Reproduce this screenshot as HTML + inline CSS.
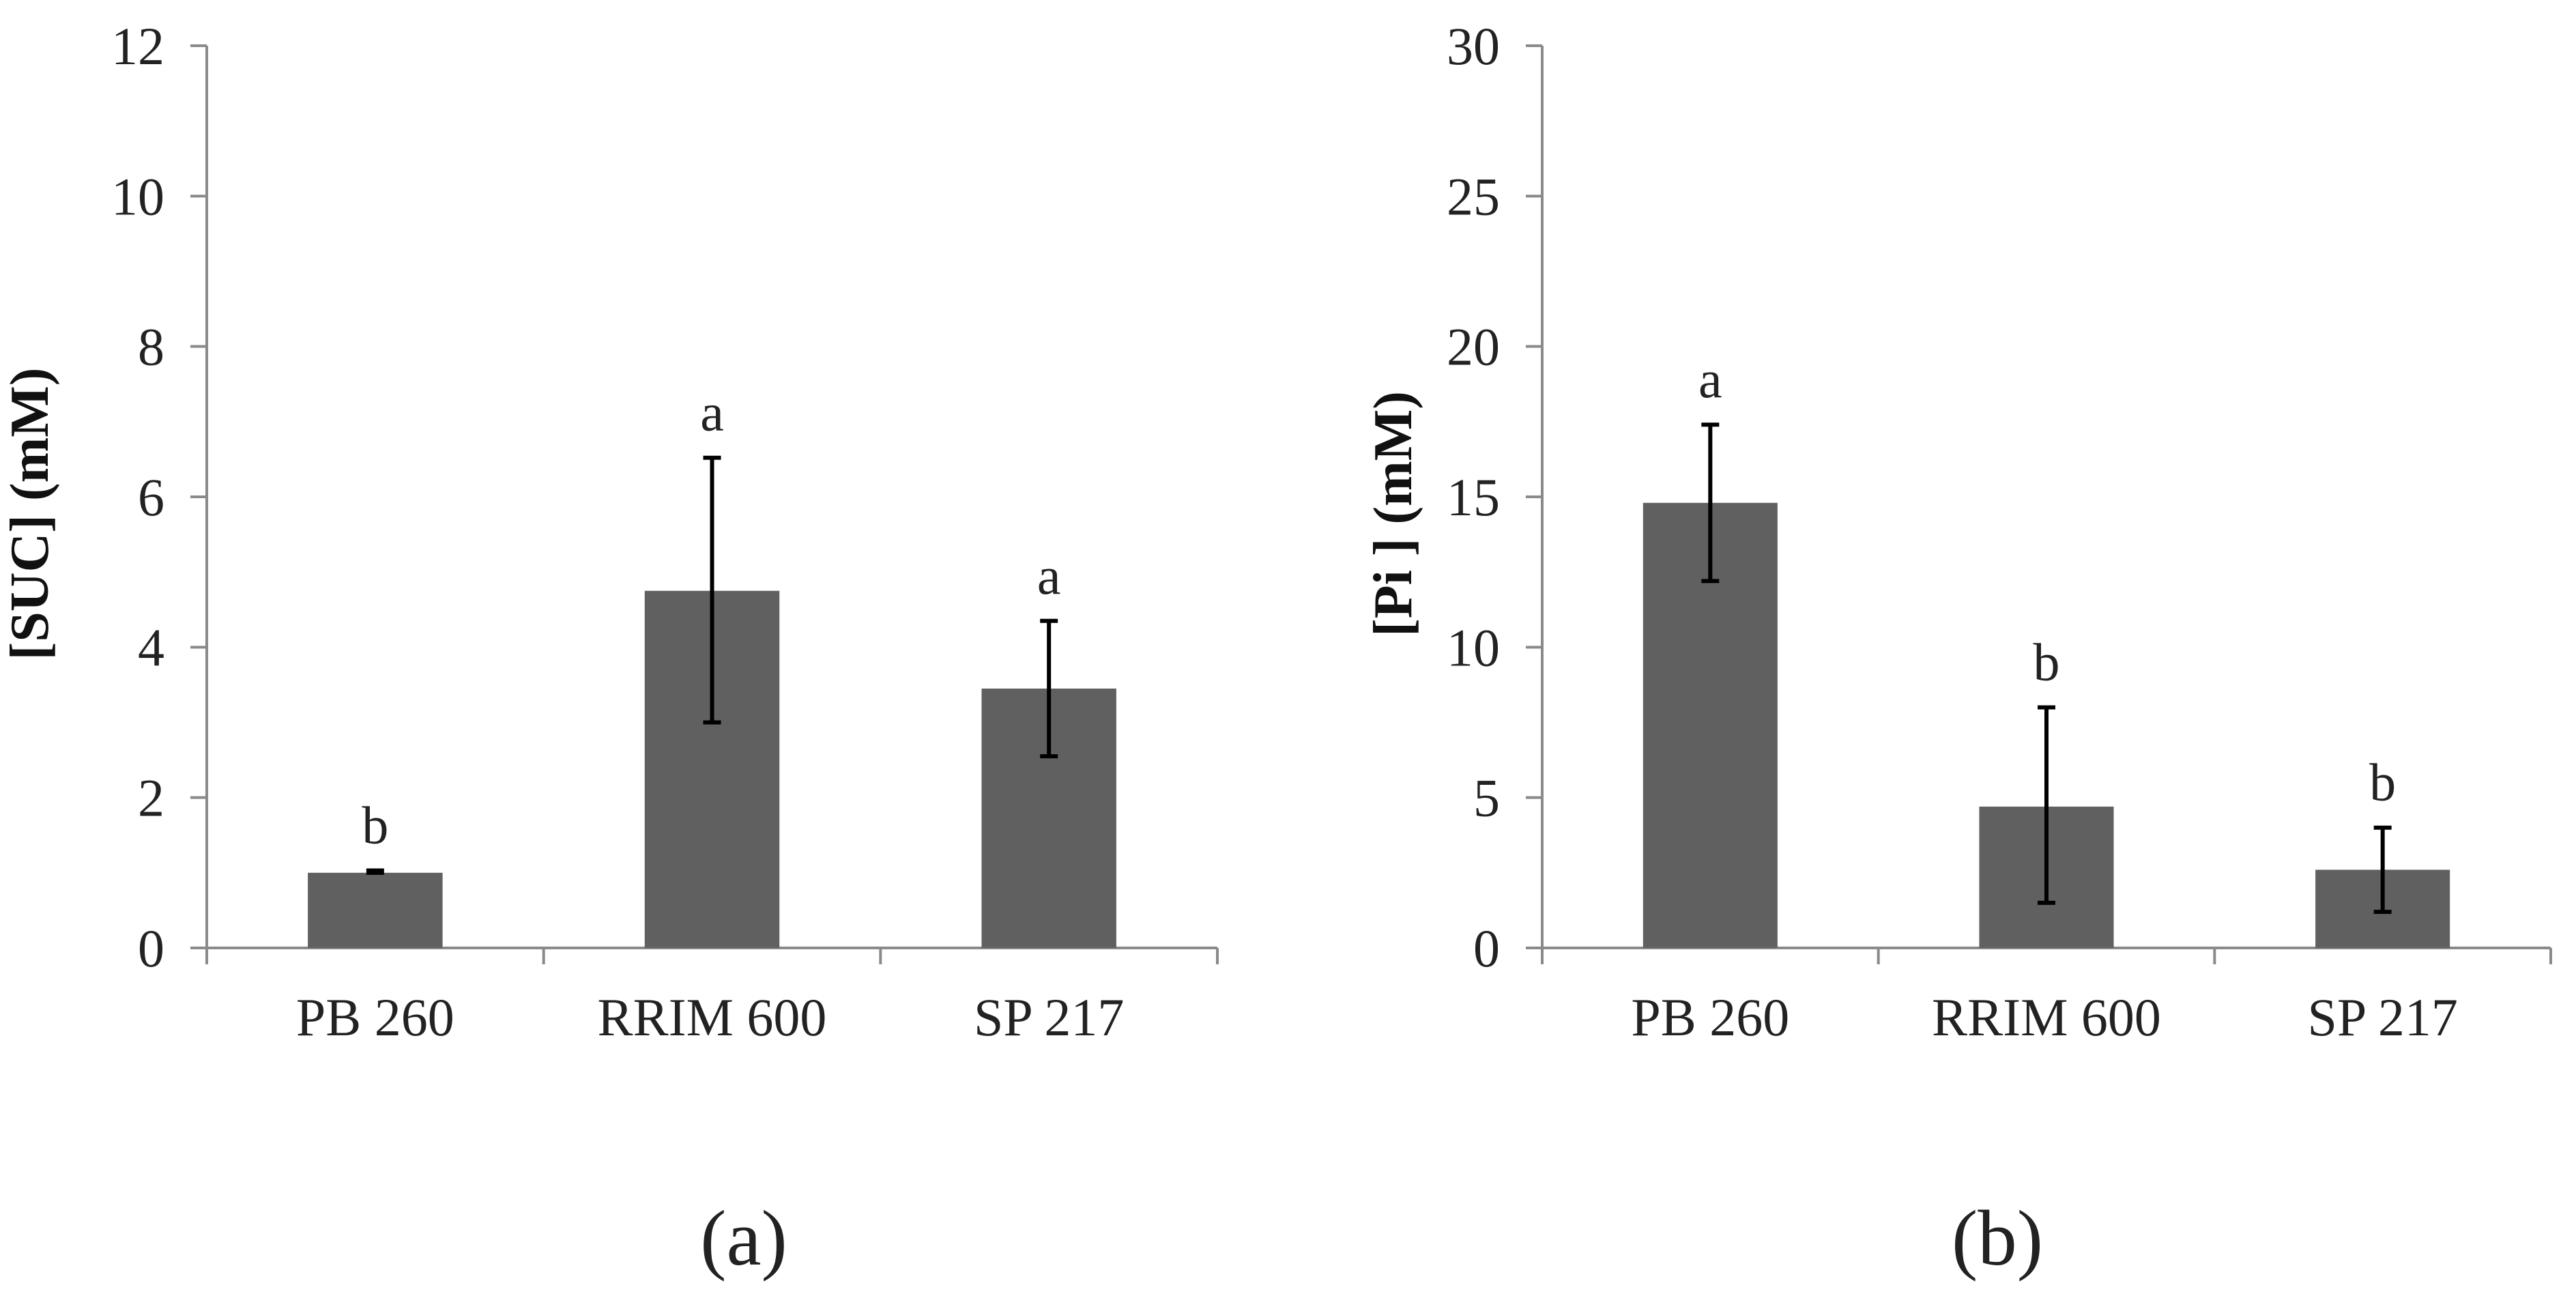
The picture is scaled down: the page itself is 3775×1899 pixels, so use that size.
<!DOCTYPE html>
<html><head><meta charset="utf-8"><style>
html,body{margin:0;padding:0;background:#fff;}
svg{display:block;font-family:"Liberation Serif",serif;}
</style></head><body>
<svg id="c" width="3775" height="1899" viewBox="0 0 3775 1899"></svg>
<script>
const categories = ["PB 260", "RRIM 600", "SP 217"];
const sucValues = [1.0, 4.75, 3.45];
const sucLow = [1.0, 3.0, 2.55];
const sucHigh = [1.03, 6.52, 4.35];
const sucLetters = ["b", "a", "a"];
const sucTicks = [0, 2, 4, 6, 8, 10, 12];
const piValues = [14.8, 4.7, 2.6];
const piLow = [12.2, 1.5, 1.2];
const piHigh = [17.4, 8.0, 4.0];
const piLetters = ["a", "b", "b"];
const piTicks = [0, 5, 10, 15, 20, 25, 30];

const NS = "http://www.w3.org/2000/svg";
const svg = document.getElementById('c');
function mk(tag, attrs, parent) {
  const e = document.createElementNS(NS, tag);
  for (const k in attrs) e.setAttribute(k, attrs[k]);
  (parent || svg).appendChild(e);
  return e;
}
function panel(id, x0, x1, yTop, yBot, max, ticks, vals, lo, hi, letters, title, titleX, caption, capX) {
  const g = mk('g', {});
  
  
  const y = v => yBot - (v / max) * (yBot - yTop);
  const bw = (x1 - x0) / categories.length;
  const xc = i => x0 + bw * (i + 0.5);
  const ax = mk('line', {x1: x0, y1: yTop, x2: x0, y2: yBot, stroke: '#8a8a8a', 'stroke-width': 4}, g);
  
  
  const xa = mk('line', {x1: x0, y1: yBot, x2: x1, y2: yBot, stroke: '#8a8a8a', 'stroke-width': 4}, g);
  
  
  ticks.forEach(t => {
    mk('line', {x1: x0 - 24, y1: y(t), x2: x0, y2: y(t), stroke: '#8a8a8a', 'stroke-width': 4}, g);
    const tl = mk('text', {x: x0 - 62, y: y(t) + 27, 'text-anchor': 'end', 'font-size': 78, fill: '#222'}, g);
    tl.textContent = t;
    
    
  });
  for (let i = 0; i <= categories.length; i++) {
    mk('line', {x1: x0 + bw * i, y1: yBot, x2: x0 + bw * i, y2: yBot + 24, stroke: '#8a8a8a', 'stroke-width': 4}, g);
  }
  categories.forEach((c, i) => {
    const w = bw * 0.4;
    const r = mk('rect', {x: xc(i) - w / 2, y: y(vals[i]), width: w, height: yBot - y(vals[i]), fill: '#606060'}, g);
    
    
    const eb = mk('path', {d: `M${xc(i)},${y(lo[i])}V${y(hi[i])}M${xc(i)-13},${y(lo[i])}H${xc(i)+13}M${xc(i)-13},${y(hi[i])}H${xc(i)+13}`, stroke: '#000', 'stroke-width': 6, fill: 'none'}, g);
    
    
    const lt = mk('text', {x: xc(i), y: y(hi[i]) - 40, 'text-anchor': 'middle', 'font-size': 78, fill: '#222'}, g);
    lt.textContent = letters[i];
    
    
    const cl = mk('text', {x: xc(i), y: yBot + 128, 'text-anchor': 'middle', 'font-size': 78, fill: '#222'}, g);
    cl.textContent = c;
    
    
  });
  const cy = (yTop + yBot) / 2 + 25;
  const yt = mk('text', {x: titleX, y: cy, 'text-anchor': 'middle', 'font-size': 80, 'font-weight': 'bold', fill: '#111', transform: `rotate(-90 ${titleX} ${cy})`}, g);
  yt.textContent = title;
  
  
  const cap = mk('text', {x: capX, y: 1853, 'text-anchor': 'middle', 'font-size': 115, fill: '#222'}, g);
  cap.textContent = caption;
  
  
}
panel('suc', 303, 1784, 67, 1389, 12, sucTicks, sucValues, sucLow, sucHigh, sucLetters, '[SUC] (mM)', 70, '(a)', 1090);
panel('pi', 2260, 3738, 67, 1389, 30, piTicks, piValues, piLow, piHigh, piLetters, '[Pi ] (mM)', 2068, '(b)', 2927);
</script>
</body></html>
